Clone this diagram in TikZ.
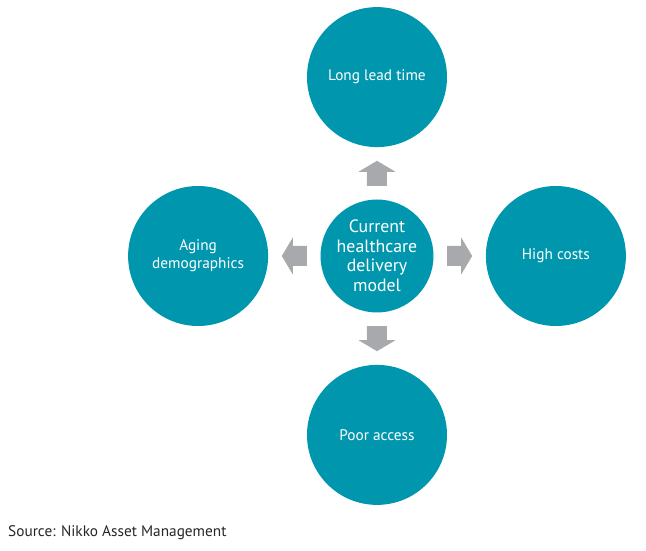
\documentclass[tikz,border=0pt]{standalone}
\usepackage{fontspec}
\setmainfont{PT Sans}
\usepackage{xcolor}
\usepackage{tikz}
\usetikzlibrary{positioning,calc}
\definecolor{tealbg}{HTML}{0097AE}
\definecolor{arrowgray}{HTML}{A7A9AC}

\begin{document}
\begin{tikzpicture}[x=1pt, y=1pt, node distance=52pt,
  every node/.style={font=\fontsize{15.3}{18}\selectfont},
  bubble/.style={circle, fill=tealbg, text=white, align=center, minimum size=140pt, inner sep=0pt},
  core/.style={bubble, minimum size=113pt, font=\fontsize{17.8}{19.5}\selectfont},
  pics/blockarrow/.style={code={\fill[arrowgray] (-12.5,-10) -- (1.5,-10) -- (1.5,-18.5) -- (12.5,0) -- (1.5,18.5) -- (1.5,10) -- (-12.5,10) -- cycle;}}]
\useasboundingbox (-377,-295) rectangle (269,256);
\node[core] (model) at (0,0) {Current\\healthcare\\delivery\\model};
\node[bubble, above=of model] (lead) {Long lead time};
\node[bubble, right=of model] (costs) {High costs};
\node[bubble, below=of model] (access) {Poor access};
\node[bubble, left=of model] (aging) {Aging\\demographics};
% grey arrows between the centre and each outer bubble
\pic[rotate=90] at ($(model.north)!.5!(lead.south)$) {blockarrow};
\pic at ($(model.east)!.5!(costs.west)$) {blockarrow};
\pic[rotate=-90] at ($(model.south)!.5!(access.north)$) {blockarrow};
\pic[rotate=180] at ($(model.west)!.5!(aging.east)$) {blockarrow};
\node[anchor=west, inner sep=0pt, text=black!85] (source) at (-369,-277) {Source: Nikko Asset Management};
\end{tikzpicture}
\end{document}
